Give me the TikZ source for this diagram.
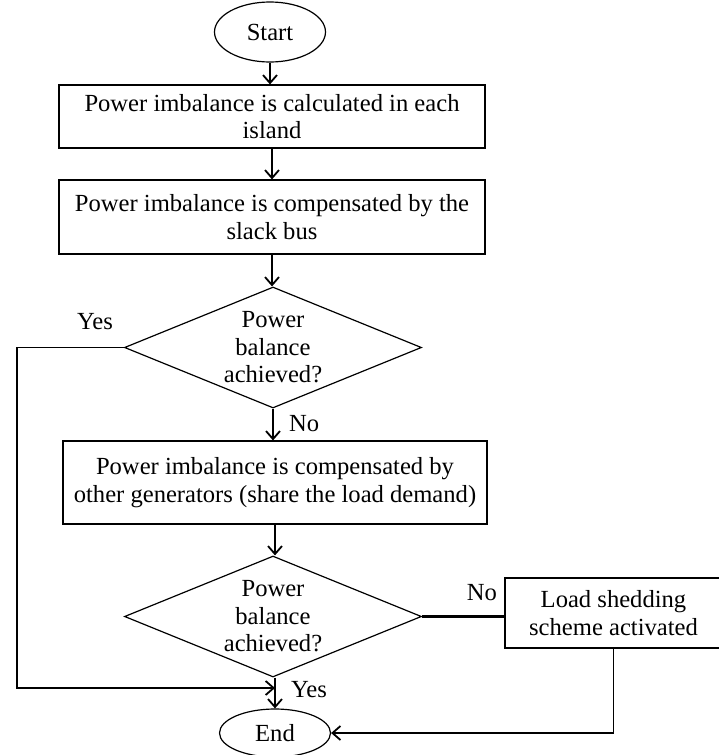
\documentclass[tikz,border=0pt]{standalone}
\usepackage{fontspec}
\setmainfont{Liberation Serif}
\usetikzlibrary{shapes.geometric,arrows.meta}

\tikzset{
	box/.style={draw, line width=0.6pt, align=center, inner sep=0pt},
	term/.style={draw, ellipse, line width=0.6pt, minimum width=55.5pt, minimum height=30pt, inner sep=0pt},
	decide/.style={draw, diamond, line width=0.6pt, minimum width=148.5pt, minimum height=60.5pt, inner sep=0pt},
	flow/.style={line width=0.9pt, -{Straight Barb[length=4pt,width=7pt]}},
}

\begin{document}
\begin{tikzpicture}[x=0.5pt, y=-0.5pt, font=\fontsize{12.3}{13.8}\selectfont]
			\fill[white] (0,0) rectangle (718,755);
			\useasboundingbox (0,0) rectangle (718,755);
			\node[term] (start) at (270,32) {Start};
			\node[box, minimum width=213pt, minimum height=31.5pt] (calc) at (272,116.5) {Power imbalance is calculated in each\\island};
			\node[box, minimum width=213pt, minimum height=37pt] (slack) at (272,217) {Power imbalance is compensated by the\\slack bus};
			\node[decide] (chk1) at (273,347.5) {};
			\node[align=center] (chk1txt) at (chk1) {Power\\balance\\achieved?};
			\node[box, minimum width=212pt, minimum height=41.5pt] (share) at (275,482.5) {Power imbalance is compensated by\\other generators (share the load demand)};
			\node[decide] (chk2) at (273,616.5) {};
			\node[align=center] (chk2txt) at (chk2) {Power\\balance\\achieved?};
			\node[box, minimum width=108.5pt, minimum height=35pt] (shed) at (613.5,613) {Load shedding\\scheme activated};
			\node[term, minimum height=24pt] (stop) at (275,733) {End};
			\coordinate (join) at (275,688);
			\draw[flow] (start) -- (start |- calc.north);
			\draw[flow] (calc.south) -- (calc.south |- slack.north);
			\draw[flow] (slack.south) -- (slack.south |- chk1.north);
			\draw[flow] (chk1.south) -- (chk1.south |- share.north);
			\draw[flow] (share.south) -- (share.south |- chk2.north);
			\draw[flow] (chk2.south -| stop.north) -- (stop.north);
			\draw[flow] (chk1.west) -- (17,347.5) |- (join);
			\draw[line width=1.6pt] (chk2.east) -- (chk2.east -| shed.west);
			\draw[flow] (shed.south) |- (stop.east);
			\node (yes1) at (95,322) {Yes};
			\node[anchor=west] (no1) at (282,424) {No};
			\node (no2) at (482,593) {No};
			\node[anchor=west] (yes2) at (284,690) {Yes};
		\end{tikzpicture}
\end{document}
